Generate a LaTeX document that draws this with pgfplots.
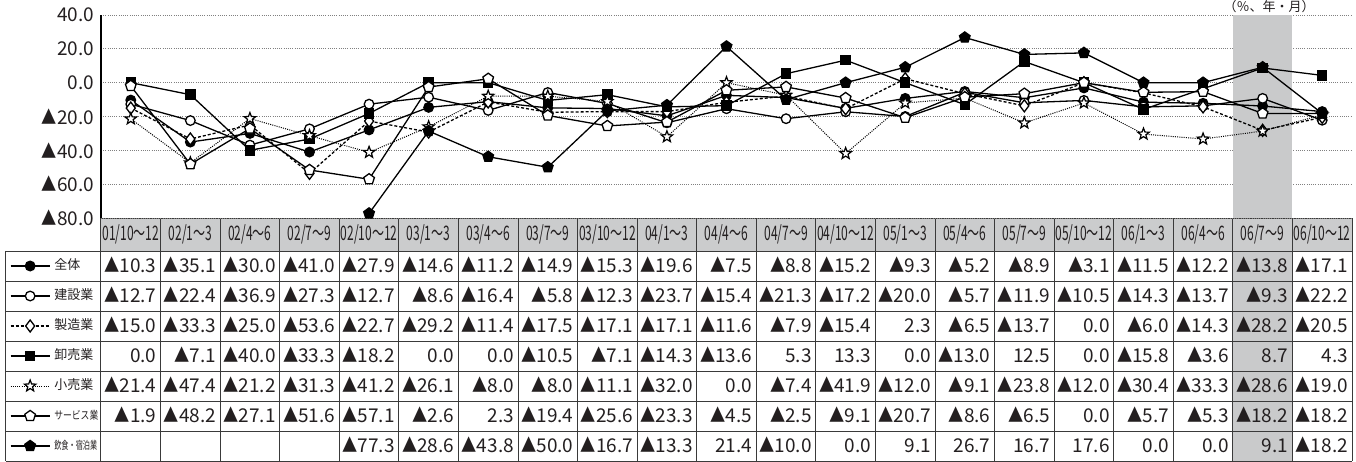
\documentclass[border=0pt]{standalone}
\usepackage{fontspec}
\setmainfont{Noto Sans CJK JP}
\usepackage{graphicx}
\usepackage{pgfplots}
\usepackage{pgfplotstable}
\pgfplotsset{compat=1.18}
\usetikzlibrary{plotmarks}

\definecolor{txt}{HTML}{231F20}
\definecolor{band}{HTML}{C9CACB}
\definecolor{hdr}{HTML}{CBCCCD}
\definecolor{rule}{HTML}{3A3A3A}

\newcommand\tri{\scalebox{0.8}[1]{▲}}
\newcommand\numfont{\fontsize{9.5}{10}\selectfont}
\newcommand\cellfmt[1]{%
  \pgfmathtruncatemacro\isneg{(#1<0)}%
  \pgfmathsetmacro\absv{abs(#1)}%
  \ifnum\isneg=1 \tri\fi
  \pgfmathprintnumber[fixed,fixed zerofill,precision=1,assume math mode=true]{\absv}}

% open five-point star
\pgfdeclareplotmark{ostar}{%
  \pgfpathmoveto{\pgfpointpolar{90}{\pgfplotmarksize}}%
  \pgfpathlineto{\pgfpointpolar{126}{0.42*\pgfplotmarksize}}%
  \pgfpathlineto{\pgfpointpolar{162}{\pgfplotmarksize}}%
  \pgfpathlineto{\pgfpointpolar{198}{0.42*\pgfplotmarksize}}%
  \pgfpathlineto{\pgfpointpolar{234}{\pgfplotmarksize}}%
  \pgfpathlineto{\pgfpointpolar{270}{0.42*\pgfplotmarksize}}%
  \pgfpathlineto{\pgfpointpolar{306}{\pgfplotmarksize}}%
  \pgfpathlineto{\pgfpointpolar{342}{0.42*\pgfplotmarksize}}%
  \pgfpathlineto{\pgfpointpolar{18}{\pgfplotmarksize}}%
  \pgfpathlineto{\pgfpointpolar{54}{0.42*\pgfplotmarksize}}%
  \pgfpathclose
  \pgfusepathqfillstroke
}

\pgfplotstableread{
x  all   cons  mfg   whol  ret   serv  food
0  -10.3 -12.7 -15.0  0.0  -21.4 -1.9  nan
1  -35.1 -22.4 -33.3 -7.1  -47.4 -48.2 nan
2  -30.0 -36.9 -25.0 -40.0 -21.2 -27.1 nan
3  -41.0 -27.3 -53.6 -33.3 -31.3 -51.6 nan
4  -27.9 -12.7 -22.7 -18.2 -41.2 -57.1 -77.3
5  -14.6 -8.6  -29.2  0.0  -26.1 -2.6  -28.6
6  -11.2 -16.4 -11.4  0.0  -8.0   2.3  -43.8
7  -14.9 -5.8  -17.5 -10.5 -8.0  -19.4 -50.0
8  -15.3 -12.3 -17.1 -7.1  -11.1 -25.6 -16.7
9  -19.6 -23.7 -17.1 -14.3 -32.0 -23.3 -13.3
10 -7.5  -15.4 -11.6 -13.6  0.0  -4.5   21.4
11 -8.8  -21.3 -7.9   5.3  -7.4  -2.5  -10.0
12 -15.2 -17.2 -15.4  13.3 -41.9 -9.1   0.0
13 -9.3  -20.0  2.3   0.0  -12.0 -20.7  9.1
14 -5.2  -5.7  -6.5  -13.0 -9.1  -8.6   26.7
15 -8.9  -11.9 -13.7  12.5 -23.8 -6.5   16.7
16 -3.1  -10.5  0.0   0.0  -12.0  0.0   17.6
17 -11.5 -14.3 -6.0  -15.8 -30.4 -5.7   0.0
18 -12.2 -13.7 -14.3 -3.6  -33.3 -5.3   0.0
19 -13.8 -9.3  -28.2  8.7  -28.6 -18.2  9.1
20 -17.1 -22.2 -20.5  4.3  -19.0 -18.2 -18.2
}\data

\begin{document}
\begin{tikzpicture}
\def\cw{29.7857}
% table under the chart (pt units, axis box starts at origin)
\begin{scope}[x=1pt, y=1pt, line width=0.5pt]
  \fill[hdr] (0,0) rectangle (625.5,-16.5);
  \fill[band] ({19*\cw},-16.5) rectangle ({20*\cw},-121.5);
  \draw[rule] (0,0) -- (625.5,0);
  \foreach \k in {0,...,7} \draw[rule] (-47.5,{-16.5-15*\k}) -- (625.5,{-16.5-15*\k});
  \foreach \k in {0,...,21} \draw[rule] ({\k*\cw},0) -- ({\k*\cw},-121.5);
  \draw[rule] (-47.5,-16.5) -- (-47.5,-121.5);
  \foreach \col [count=\r from 0] in {all,cons,mfg,whol,ret,serv,food}{%
    \foreach \i in {0,...,20}{%
      \pgfplotstablegetelem{\i}{\col}\of\data
      \edef\v{\pgfplotsretval}%
      \ifnum\strcmp{\v}{nan}=0\relax\else
        \node[anchor=base east, inner sep=0pt, font=\numfont, text=txt]
          at ({(\i+1)*\cw-1.8},{-27.2-15*\r}) {\cellfmt{\v}};
      \fi
    }%
  }
  \node[anchor=base east, inner sep=0pt, font=\fontsize{6.5}{7}\selectfont, text=txt]
    at (607,103) {（％、年・月）};
\end{scope}

\begin{axis}[
  name=ax, at={(0,0)}, anchor=south west,
  scale only axis, width=625.5pt, height=101.5pt,
  xmin=-0.5, xmax=20.5, ymin=-80, ymax=40,
  clip=false,
  separate axis lines,
  axis x line*=bottom, axis y line*=left,
  x axis line style={draw=none},
  y axis line style={draw=black, line width=0.8pt},
  major tick length=0pt,
  xtick={0,...,20},
  xticklabels={01/10〜12,02/1〜3,02/4〜6,02/7〜9,02/10〜12,03/1〜3,03/4〜6,03/7〜9,03/10〜12,04/1〜3,04/4〜6,04/7〜9,04/10〜12,05/1〜3,05/4〜6,05/7〜9,05/10〜12,06/1〜3,06/4〜6,06/7〜9,06/10〜12},
  xticklabel style={font=\fontsize{10}{10}\selectfont, xscale=0.6, anchor=center, yshift=-8.25pt, text=txt},
  ytick={-80,-60,-40,-20,0,20,40},
  yticklabels={\tri80.0,\tri60.0,\tri40.0,\tri20.0,0.0,20.0,40.0},
  yticklabel style={font=\fontsize{9.5}{10}\selectfont, text=txt},
  /pgf/number format/assume math mode=true,
  ymajorgrids,
  major grid style={line width=0.5pt, gray, dash pattern=on 0.5pt off 0.6pt},
  legend image code/.code={\draw[mark repeat=2,mark phase=2] plot coordinates {(0pt,0pt)(9.75pt,0pt)(19.5pt,0pt)};},
  legend style={at={(-0.07274,-0.16256)}, anchor=north west, draw=none, fill=none,
    inner sep=0pt, outer sep=0pt, row sep=0pt,
    font=\fontsize{6.5}{7}\selectfont, text=txt,
    nodes={inner xsep=2pt, inner ysep=0pt, minimum height=15pt}},
  legend cell align=left,
]
\addplot[draw=none, fill=band, forget plot] coordinates {(18.5,-80) (19.5,-80) (19.5,40) (18.5,40)} -- cycle;

\addplot[black, line width=0.65pt, mark=*, mark size=2.4pt, mark options={solid, fill=black}] table[x=x, y=all] {\data};
\addplot[black, line width=0.65pt, mark=*, mark size=2.4pt, mark options={solid, fill=white}] table[x=x, y=cons] {\data};
\addplot[black, line width=0.65pt, dash pattern=on 1.5pt off 1pt, mark=diamond*, mark size=3pt, mark options={solid, fill=white}] table[x=x, y=mfg] {\data};
\addplot[black, line width=0.65pt, mark=square*, mark size=2.3pt, mark options={solid, fill=black}] table[x=x, y=whol] {\data};
\addplot[black, line width=0.5pt, dash pattern=on 0.5pt off 0.6pt, mark=ostar, mark size=3pt, mark options={solid, fill=white, line width=0.6pt}] table[x=x, y=ret] {\data};
\addplot[black, line width=0.65pt, mark=pentagon*, mark size=2.8pt, mark options={solid, fill=white}] table[x=x, y=serv] {\data};
\addplot[black, line width=0.65pt, mark=pentagon*, mark size=2.8pt, mark options={solid, fill=black}] table[x=x, y=food] {\data};
\legend{全体,建設業,製造業,卸売業,小売業,{\fontsize{5.5}{6}\selectfont\scalebox{0.8}[1]{サービス業}},{\fontsize{5.5}{6}\selectfont\scalebox{0.65}[1]{飲食・宿泊業}}}
\end{axis}
\pgfresetboundingbox
\path[use as bounding box] (-50.5pt,-121.5pt) rectangle (627.5pt,109pt);
\end{tikzpicture}
\end{document}
